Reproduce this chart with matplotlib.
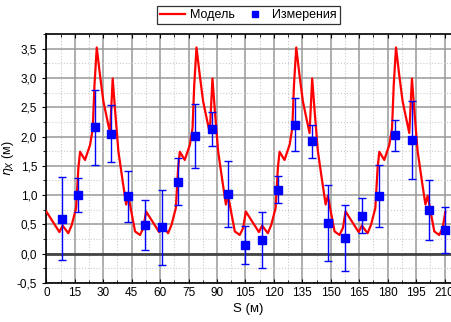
import numpy as np
import matplotlib
matplotlib.use("Agg")
import matplotlib.pyplot as plt
from matplotlib.lines import Line2D
from matplotlib.ticker import MultipleLocator, FuncFormatter

plt.rcParams['font.family'] = ['Liberation Sans', 'DejaVu Sans']

# Модель (кривая дисперсии)
model_s = [
    0.0, 6.9, 8.6, 11.6, 13.4, 15.7, 16.9, 17.8, 20.4, 23.1, 24.5, 25.4, 26.6, 28.3,
    30.1, 31.9, 33.6, 35.0, 36.3, 38.0, 40.3, 42.1, 43.3, 45.1, 46.8, 49.4, 51.2,
    52.6, 59.5, 61.2, 64.2, 66.0, 68.3, 69.5, 70.4, 73.0, 75.7, 77.1, 78.0, 79.2, 80.9,
    82.7, 84.5, 86.2, 87.6, 88.9, 90.6, 92.9, 94.7, 95.9, 97.7, 99.4, 102.0, 103.8,
    105.2, 112.1, 113.8, 116.8, 118.6, 120.9, 122.1, 123.0, 125.6, 128.3, 129.7, 130.6, 131.8, 133.5,
    135.3, 137.1, 138.8, 140.2, 141.5, 143.2, 145.5, 147.3, 148.5, 150.3, 152.0, 154.6, 156.4,
    157.8, 164.7, 166.4, 169.4, 171.2, 173.5, 174.7, 175.6, 178.2, 180.9, 182.3, 183.2, 184.4, 186.1,
    187.9, 189.7, 191.4, 192.8, 194.1, 195.8, 198.1, 199.9, 201.1, 202.9, 204.6, 207.2, 209.0, 210.4,
]
model_eta = [
    0.72, 0.37, 0.48, 0.35, 0.49, 0.78, 1.46, 1.74, 1.60, 1.86, 2.14, 2.88, 3.52, 3.05,
    2.60, 2.32, 2.06, 2.99, 2.43, 1.75, 1.23, 0.84, 0.99, 0.67, 0.38, 0.32, 0.44,
    0.72, 0.37, 0.48, 0.35, 0.49, 0.78, 1.46, 1.74, 1.60, 1.86, 2.14, 2.88, 3.52, 3.05,
    2.60, 2.32, 2.06, 2.99, 2.43, 1.75, 1.23, 0.84, 0.99, 0.67, 0.38, 0.32, 0.44,
    0.72, 0.37, 0.48, 0.35, 0.49, 0.78, 1.46, 1.74, 1.60, 1.86, 2.14, 2.88, 3.52, 3.05,
    2.60, 2.32, 2.06, 2.99, 2.43, 1.75, 1.23, 0.84, 0.99, 0.67, 0.38, 0.32, 0.44,
    0.72, 0.37, 0.48, 0.35, 0.49, 0.78, 1.46, 1.74, 1.60, 1.86, 2.14, 2.88, 3.52, 3.05,
    2.60, 2.32, 2.06, 2.99, 2.43, 1.75, 1.23, 0.84, 0.99, 0.67, 0.38, 0.32, 0.44, 0.71,
]

# Измерения (BPM) с погрешностями
meas_s = [8.1, 16.9, 25.7, 34.3, 43.3, 52.1, 60.9, 69.7, 78.5, 87.3, 96.0, 105.0,
          113.7, 122.4, 131.2, 140.0, 148.8, 157.6, 166.4, 175.2, 184.0, 192.8, 201.6, 210.4]
meas_eta = [0.60, 1.01, 2.16, 2.05, 0.98, 0.49, 0.45, 1.23, 2.01, 2.13, 1.02, 0.15,
            0.23, 1.09, 2.20, 1.92, 0.53, 0.27, 0.65, 0.98, 2.02, 1.94, 0.75, 0.40]
meas_err = [0.71, 0.29, 0.64, 0.48, 0.44, 0.43, 0.64, 0.40, 0.54, 0.29, 0.57, 0.32,
            0.48, 0.23, 0.45, 0.28, 0.65, 0.56, 0.30, 0.53, 0.27, 0.66, 0.51, 0.39]


def comma_fmt(val, pos):
    return f"{val:.1f}".replace(".", ",")


def main():
    fig = plt.figure(figsize=(4.51, 3.22), dpi=100)
    ax = fig.add_axes([0.1027, 0.1211, 0.8973, 0.7733])

    ax.set_xlim(0, 213.4)
    ax.set_ylim(-0.5, 3.75)

    # сетка: основная сплошная, дополнительная пунктирная
    ax.xaxis.set_major_locator(MultipleLocator(15))
    ax.xaxis.set_minor_locator(MultipleLocator(7.5))
    ax.yaxis.set_major_locator(MultipleLocator(0.5))
    ax.yaxis.set_minor_locator(MultipleLocator(0.25))
    ax.yaxis.set_major_formatter(FuncFormatter(comma_fmt))
    ax.grid(which='major', color='#999999', lw=1.1, ls='-', zorder=0)
    ax.grid(which='minor', color='#cccccc', lw=0.8, ls=':', zorder=0)
    ax.axhline(0, color='#444444', lw=2, zorder=1)
    ax.set_axisbelow(True)

    ax.plot(model_s, model_eta, color='red', lw=1.6, zorder=3)
    ax.errorbar(meas_s, meas_eta, yerr=meas_err, fmt='s', color='blue', ms=5.5,
                ecolor='blue', elinewidth=1.0, capsize=3, capthick=1.0, zorder=4)

    ax.spines['right'].set_visible(False)
    for sp in ['left', 'bottom', 'top']:
        ax.spines[sp].set_linewidth(1.2)
    ax.tick_params(which='both', labelsize=8.5, direction='out', top=True, right=False)
    ax.tick_params(which='major', length=3)
    ax.tick_params(which='minor', length=2)
    ax.tick_params(axis='x', which='both', top=True, direction='in')
    ax.tick_params(axis='x', pad=3)

    ax.set_xlabel("S (м)", fontsize=9.5, labelpad=3)
    ax.set_ylabel(r"$\eta_X$ (м)", fontsize=9, labelpad=1)

    handles = [
        Line2D([], [], color='red', lw=1.6),
        Line2D([], [], ls='none', marker='s', color='blue', ms=5),
    ]
    leg = fig.legend(handles, ["Модель", "Измерения"], loc='center',
                     bbox_to_anchor=(0.551, 0.953), ncol=2, fontsize=9,
                     frameon=True, fancybox=False, handlelength=2.0,
                     columnspacing=0.6, borderpad=0.25, handletextpad=0.4,
                     borderaxespad=0.2)
    leg.get_frame().set_edgecolor('black')
    leg.get_frame().set_linewidth(0.9)

    plt.savefig("out.png", dpi=100)
    plt.close()


if __name__ == "__main__":
    main()
